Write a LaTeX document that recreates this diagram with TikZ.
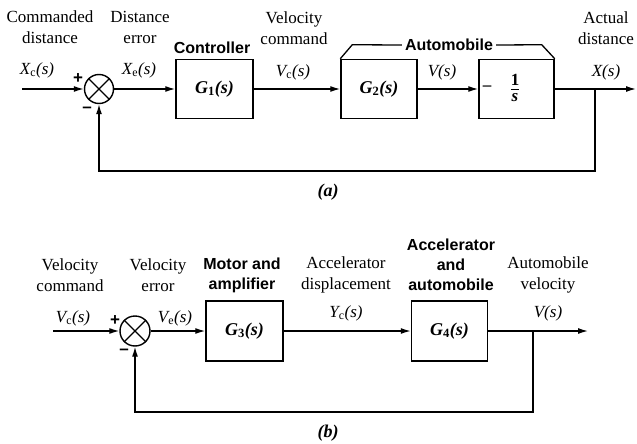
\documentclass[tikz,border=0pt]{standalone}
\usepackage{amsmath}
\usepackage{fontspec}
\setmainfont{Liberation Serif}
\newfontfamily\hvfont{Liberation Sans}
\usetikzlibrary{arrows.meta,calc}
\tikzset{
  lbl/.style={font=\fontsize{17}{21}\selectfont, align=center, inner sep=0pt},
  hdr/.style={font=\hvfont\bfseries\fontsize{16}{20}\selectfont, align=center, inner sep=0pt},
  sig/.style={font=\fontsize{17}{21}\selectfont\itshape, inner sep=0pt},
  blk/.style={draw, line width=1.5pt, minimum width=#1, minimum height=59pt, inner sep=0pt,
              font=\fontsize{18}{22}\selectfont\bfseries\itshape},
  sumj/.style={draw, circle, line width=1.4pt, minimum size=29pt, inner sep=0pt},
  wire/.style={line width=1.3pt},
  arr/.style={wire, -{Latex[length=10pt,width=6pt]}},
  sgn/.style={font=\hvfont\fontsize{17}{18}\selectfont\bfseries, inner sep=0pt},
  figcap/.style={font=\fontsize{18}{21}\selectfont\bfseries\itshape, inner sep=0pt}
}
\newcommand{\subup}[1]{\textsubscript{\upshape #1}}
\begin{document}
\begin{tikzpicture}[x=1pt,y=-1pt]
\useasboundingbox (0,0) rectangle (637,444);

% ---------------- (a) ----------------
\node[sumj] (sa) at (99,89) {};
\draw[line width=1.4pt] (sa.45) -- (sa.225) (sa.135) -- (sa.315);
\node[blk=77pt] (g1) at (214.5,89) {G\subup{1}(s)};
\node[blk=76pt] (g2) at (379,89) {G\subup{2}(s)};
\node[blk=75pt] (gi) at (516.5,89) {};
\node[lbl, font=\fontsize{17}{21}\selectfont\bfseries] (idash) at (487,88) {\textendash};
\node[inner sep=0pt] (ifrac) at (515,88)
  {$\displaystyle\genfrac{}{}{1.1pt}{}{\mbox{\fontsize{17}{20}\selectfont\bfseries 1}}{\mbox{\fontsize{17}{20}\selectfont\bfseries\itshape s}}$};

\coordinate (ina) at (22,89);
\coordinate (outa) at (636,89);
\coordinate (bra) at (595,89);
\coordinate (fba) at (595,171);

\draw[arr] (ina) -- (sa.west);
\draw[arr] (sa.east) -- (g1.west);
\draw[arr] (g1.east) -- (g2.west);
\draw[arr] (g2.east) -- (gi.west);
\draw[arr] (gi.east) -- (outa);
\draw[arr] (bra) -- (fba) -| (sa.south);

\node[sgn] (pa) at (78,79) {+};
\node[sgn] (ma) at (87,110) {\textendash};

\node[hdr, inner sep=3pt] (auto) at (449,45) {Automobile};
\draw[wire] (g2.north west) -- ++(12,-14) -- (auto.west);
\draw[wire] (auto.east) -- ($(gi.north east)+(-13,-14)$) -- (gi.north east);

\node[lbl] (cmdd) at (50,27.5) {Commanded\\distance};
\node[lbl] (derr) at (140,27.5) {Distance\\error};
\node[sig] (xc) at (37,70) {X\subup{c}(s)};
\node[sig] (xe) at (139,70) {X\subup{e}(s)};
\node[hdr] (ctrl) at (212,48) {Controller};
\node[lbl] (vcmd) at (294,28) {Velocity\\command};
\node[sig] (vca) at (293,72) {V\subup{c}(s)};
\node[sig] (va) at (442,72) {V(s)};
\node[lbl] (adist) at (606,28.5) {Actual\\distance};
\node[sig] (xs) at (606,72) {X(s)};
\node[figcap] (capa) at (328,192) {(a)};

% ---------------- (b) ----------------
\node[sumj, minimum size=30pt] (sb) at (135,331) {};
\draw[line width=1.4pt] (sb.45) -- (sb.225) (sb.135) -- (sb.315);
\node[blk=77pt, minimum height=60pt] (g3) at (244.5,331) {G\subup{3}(s)};
\node[blk=76pt, minimum height=60pt] (g4) at (449.5,331) {G\subup{4}(s)};

\coordinate (inb) at (53,331);
\coordinate (outb) at (588,331);
\coordinate (brb) at (533,331);
\coordinate (fbb) at (533,412);

\draw[arr] (inb) -- (sb.west);
\draw[arr] (sb.east) -- (g3.west);
\draw[arr] (g3.east) -- (g4.west);
\draw[arr] (g4.east) -- (outb);
\draw[arr] (brb) -- (fbb) -| (sb.south);

\node[sgn] (pb) at (115,321) {+};
\node[sgn] (mb) at (124,352) {\textendash};

\node[lbl] (vcb) at (70,275) {Velocity\\command};
\node[lbl] (veb) at (158,275) {Velocity\\error};
\node[sig] (vcs) at (73,318) {V\subup{c}(s)};
\node[sig] (ves) at (175,318) {V\subup{e}(s)};
\node[hdr] (mot) at (242,275) {Motor and\\amplifier};
\node[lbl] (acc) at (346,275) {Accelerator\\displacement};
\node[sig] (ycs) at (346,313) {Y\subup{c}(s)};
\node[hdr] (acca) at (451,265) {Accelerator\\and\\automobile};
\node[lbl] (avel) at (548,275) {Automobile\\velocity};
\node[sig] (vsb) at (548,313) {V(s)};
\node[figcap] (capb) at (328,433) {(b)};
\end{tikzpicture}
\end{document}
